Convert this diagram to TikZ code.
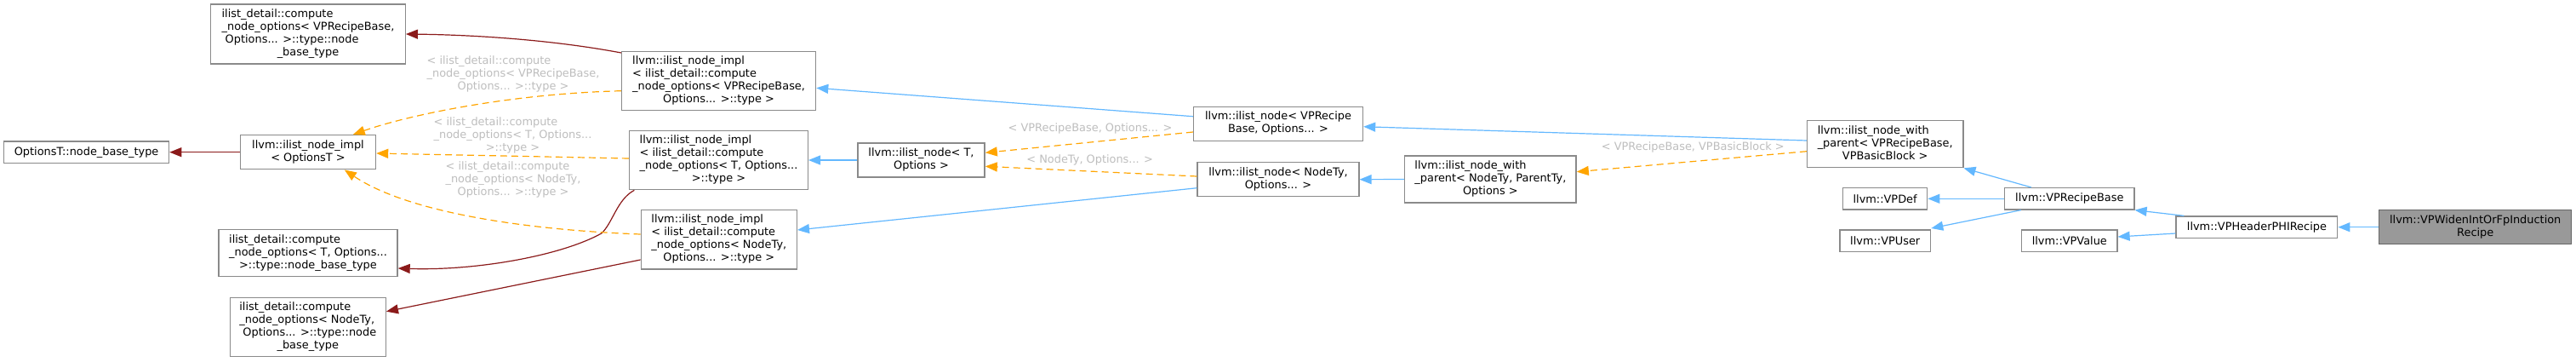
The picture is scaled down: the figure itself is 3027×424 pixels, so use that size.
\documentclass[tikz,border=0pt]{standalone}
\usepackage{fontspec}
\setmainfont{DejaVu Sans}
\usetikzlibrary{arrows.meta}
\definecolor{boxgray}{HTML}{8A8A8A}
\definecolor{hlfill}{HTML}{999999}
\definecolor{hldraw}{HTML}{666666}
\definecolor{blueE}{HTML}{63B8FF}
\definecolor{redE}{HTML}{8B1A1A}
\definecolor{orangeE}{HTML}{FFA500}
\definecolor{labgray}{HTML}{BEBEBE}
\newcommand{\ml}[1]{\begin{tabular}{@{}l@{}}#1\end{tabular}}
\newcommand{\lc}[1]{\multicolumn{1}{@{}c@{}}{#1}}
\tikzset{
  cls/.style={draw=boxgray, line width=1.4pt, fill=white, inner sep=0pt,
    font=\fontsize{12.9}{15}\selectfont, text=black},
  hl/.style={cls, fill=hlfill, draw=hldraw},
  elab/.style={font=\fontsize{12.9}{15}\selectfont, text=labgray, inner sep=0pt},
  tip/.style={-{Triangle[length=14pt,width=11pt]}},
  inh/.style={tip, draw=blueE, line width=1.2pt},
  usage/.style={tip, draw=redE, line width=1.2pt},
  tmpl/.style={tip, draw=orangeE, line width=1.2pt, dash pattern=on 8pt off 5pt},
}
\begin{document}
\begin{tikzpicture}[x=1pt,y=-1pt]
\path[use as bounding box, fill=white] (0,0) rectangle (3027,424);

% nodes
\node[cls, minimum width=228.5pt, minimum height=70pt] (cnoV) at (362,40)
  {\ml{ilist\_detail::compute\\ \_node\_options< VPRecipeBase,\\ \ Options... >::type::node\\ \lc{\_base\_type}}};
\node[cls, minimum width=194pt, minimum height=25.5pt] (obt) at (101.6,178.7)
  {OptionsT::node\_base\_type};
\node[cls, minimum width=159pt, minimum height=40pt] (implO) at (362,178.7)
  {\ml{llvm::ilist\_node\_impl\\ \lc{< OptionsT >}}};
\node[cls, minimum width=210pt, minimum height=55pt] (cnoT) at (362,297)
  {\ml{ilist\_detail::compute\\ \_node\_options< T, Options...\\ \lc{>::type::node\_base\_type}}};
\node[cls, minimum width=183pt, minimum height=69pt] (cnoN) at (361.8,383.8)
  {\ml{ilist\_detail::compute\\ \_node\_options< NodeTy,\\ \ Options... >::type::node\\ \lc{\_base\_type}}};
\node[cls, minimum width=228pt, minimum height=69pt] (implV) at (844.6,94.7)
  {\ml{llvm::ilist\_node\_impl\\ < ilist\_detail::compute\\ \_node\_options< VPRecipeBase,\\ \lc{Options... >::type >}}};
\node[cls, minimum width=209.7pt, minimum height=69.3pt] (implT) at (844.5,188)
  {\ml{llvm::ilist\_node\_impl\\ < ilist\_detail::compute\\ \_node\_options< T, Options...\\ \lc{>::type >}}};
\node[cls, minimum width=183pt, minimum height=69.3pt] (implN) at (844.8,281.3)
  {\ml{llvm::ilist\_node\_impl\\ < ilist\_detail::compute\\ \_node\_options< NodeTy,\\ \lc{Options... >::type >}}};
\node[cls, minimum width=149.2pt, minimum height=40pt] (inT) at (1082.5,188)
  {\ml{llvm::ilist\_node< T,\\ \lc{Options >}}};
\node[cls, minimum width=199pt, minimum height=40pt] (inV) at (1502,145.3)
  {\ml{llvm::ilist\_node< VPRecipe\\ \lc{Base, Options... >}}};
\node[cls, minimum width=189.7pt, minimum height=40pt] (inN) at (1502,210.7)
  {\ml{llvm::ilist\_node< NodeTy,\\ \lc{Options... >}}};
\node[cls, minimum width=201.4pt, minimum height=55pt] (nwpN) at (1751.4,210.5)
  {\ml{llvm::ilist\_node\_with\\ \_parent< NodeTy, ParentTy,\\ \lc{Options >}}};
\node[cls, minimum width=183.2pt, minimum height=55pt] (nwpV) at (2215.2,169.2)
  {\ml{llvm::ilist\_node\_with\\ \_parent< VPRecipeBase,\\ \lc{VPBasicBlock >}}};
\node[cls, minimum width=99pt, minimum height=25.3pt] (vpdef) at (2215.1,233.3) {llvm::VPDef};
\node[cls, minimum width=106.8pt, minimum height=25.3pt] (vpuser) at (2215.2,282.7) {llvm::VPUser};
\node[cls, minimum width=152.2pt, minimum height=25.3pt] (vprb) at (2431.8,233.3) {llvm::VPRecipeBase};
\node[cls, minimum width=112.2pt, minimum height=25.3pt] (vpvalue) at (2431.8,282.7) {llvm::VPValue};
\node[cls, minimum width=189.6pt, minimum height=25.3pt] (vphpr) at (2651.9,266.7) {llvm::VPHeaderPHIRecipe};
\node[hl, minimum width=226pt, minimum height=40pt] (widen) at (2908.7,266.7)
  {\ml{llvm::VPWidenIntOrFpInduction\\ \lc{Recipe}}};

% edge labels
\node[elab] (l1) at (603,87)
  {\ml{< ilist\_detail::compute\\ \_node\_options< VPRecipeBase,\\ \lc{Options... >::type >}}};
\node[elab] (l2) at (602.5,159.5)
  {\ml{< ilist\_detail::compute\\ \_node\_options< T, Options...\\ \lc{>::type >}}};
\node[elab] (l3) at (603,211.5)
  {\ml{< ilist\_detail::compute\\ \_node\_options< NodeTy,\\ \lc{Options... >::type >}}};
\node[elab] (l4) at (1281,151) {< VPRecipeBase, Options... >};
\node[elab] (l5) at (1280.7,188) {< NodeTy, Options... >};
\node[elab] (l6) at (1989.3,173) {< VPRecipeBase, VPBasicBlock >};

% usage (dark red)
\draw[usage] (implO.west) -- (obt.east);
\draw[usage] ([yshift=32.7pt]implV.west) .. controls (650,47) and (560,41) .. (cnoV.east);
\draw[usage] ([xshift=6.4pt]implT.south west) .. controls (725,234) and (720,262) .. (706.7,274)
  .. controls (660,300) and (560,318) .. ([yshift=-18pt]cnoT.east);
\draw[usage] ([yshift=-23.7pt]implN.west) -- ([yshift=18.1pt]cnoN.east);

% template (orange dashed)
\draw[tmpl] ([yshift=-12pt]implV.west) .. controls (600,110) and (480,135) .. ([xshift=-27.4pt]implO.north east);
\draw[tmpl] ([yshift=2pt]implT.west) -- ([yshift=-1.3pt]implO.east);
\draw[tmpl] ([yshift=6.3pt]implN.west) .. controls (620,270) and (480,250) .. ([xshift=-37.4pt]implO.south east);
\draw[tmpl] ([yshift=-9.7pt]inV.west) -- ([yshift=8.7pt]inT.east);
\draw[tmpl] ([yshift=3.7pt]inN.west) -- ([yshift=-7.3pt]inT.east);
\draw[tmpl] ([yshift=-8.5pt]nwpV.west) -- ([yshift=8.8pt]nwpN.east);

% inheritance (blue)
\draw[inh] ([yshift=8.6pt]inV.west) -- ([yshift=-8.6pt]implV.east);
\draw[inh] (inT.west) -- (implT.east);
\draw[inh] ([yshift=-10pt]inN.west) -- ([yshift=11.3pt]implN.east);
\draw[inh] ([yshift=4.2pt]nwpV.west) -- ([yshift=-3.4pt]inV.east);
\draw[inh] (nwpN.west) -- (inN.east);
\draw[inh] ([xshift=31.8pt]vprb.north west) -- (nwpV.south east);
\draw[inh] (vprb.west) -- (vpdef.east);
\draw[inh] ([xshift=19.7pt]vprb.south west) -- ([yshift=14.7pt]vpuser.east);
\draw[inh] ([xshift=10pt]vphpr.north west) -- (vprb.south east);
\draw[inh] ([yshift=-7.3pt]vphpr.west) -- ([yshift=4.7pt]vpvalue.east);
\draw[inh] (widen.west) -- (vphpr.east);
\end{tikzpicture}
\end{document}
